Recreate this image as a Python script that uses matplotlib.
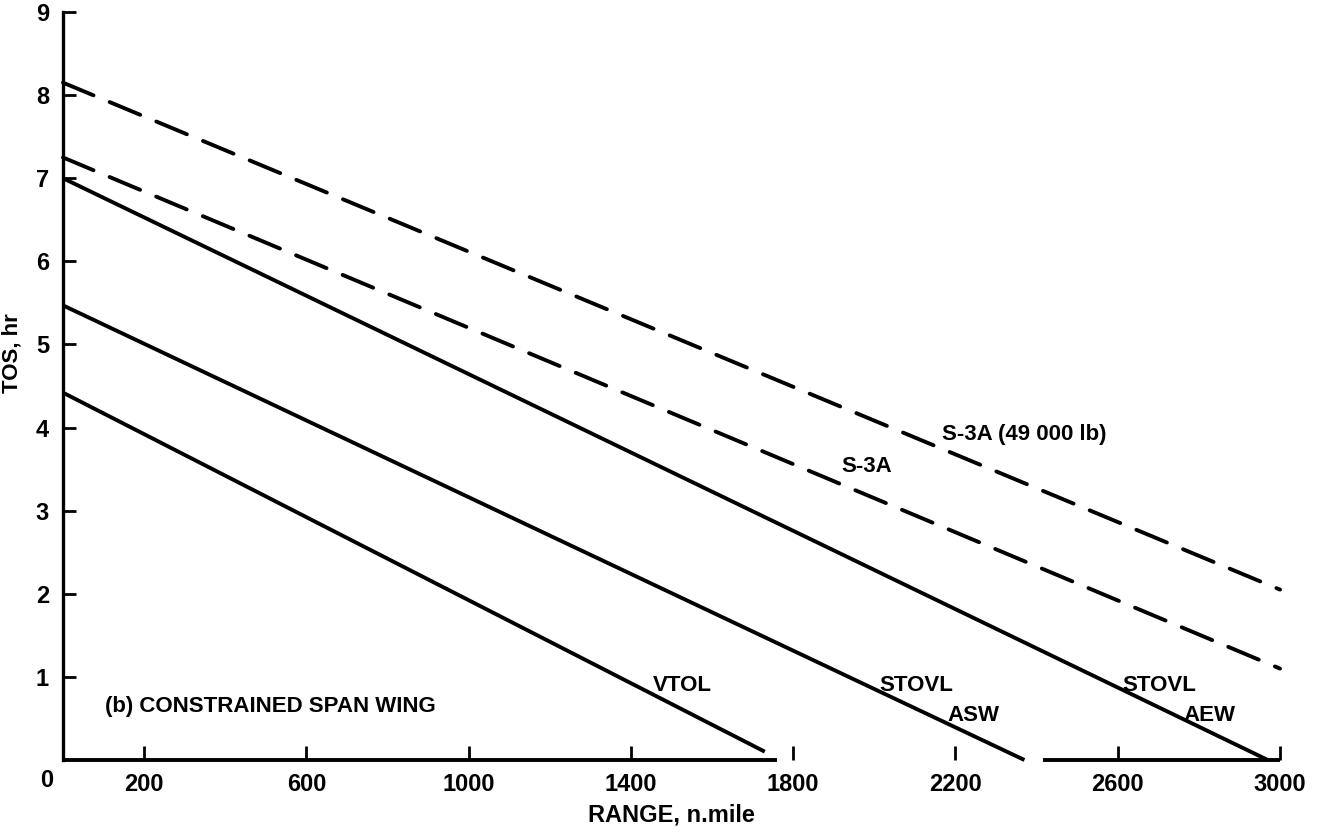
import matplotlib.pyplot as plt
import numpy as np

# Time on station vs. range, constrained span wing
range_nm = {
    "S-3A (49 000 lb)": [0, 3000],
    "S-3A": [0, 3000],
    "STOVL AEW": [0, 2970],
    "STOVL ASW": [0, 2370],
    "VTOL": [0, 1730],
}
tos_hr = {
    "S-3A (49 000 lb)": [8.15, 2.05],
    "S-3A": [7.25, 1.1],
    "STOVL AEW": [7.0, 0.0],
    "STOVL ASW": [5.47, 0.0],
    "VTOL": [4.42, 0.1],
}
dashed = {"S-3A (49 000 lb)", "S-3A"}

xticks = [200, 600, 1000, 1400, 1800, 2200, 2600, 3000]
yticks = [1, 2, 3, 4, 5, 6, 7, 8, 9]
# the x axis line is broken between these ranges
xaxis_segments = [(0, 1760), (2415, 3000)]

plt.rcParams['font.family'] = ['Liberation Sans', 'DejaVu Sans']
plt.rcParams['font.weight'] = 'bold'

fig = plt.figure(figsize=(13.19, 8.30), dpi=100)
ax = fig.add_axes([63 / 1319, 70 / 830, (1280 - 63) / 1319, (760 - 12) / 830])

for name in range_nm:
    x = np.array(range_nm[name])
    y = np.array(tos_hr[name])
    if name in dashed:
        ax.plot(x, y, color="black", lw=2.8, dashes=(8.5, 4.5), dash_capstyle="round",
                clip_on=False)
    else:
        ax.plot(x, y, color="black", lw=2.8, solid_capstyle="butt", clip_on=False)

ax.set_xlim(0, 3000)
ax.set_ylim(0, 9)

for spine in ["top", "right", "bottom"]:
    ax.spines[spine].set_visible(False)
ax.spines["left"].set_linewidth(2.4)
for x0, x1 in xaxis_segments:
    ax.plot([x0, x1], [0, 0], color="black", lw=2.8, clip_on=False,
            solid_capstyle="butt")

ax.set_xticks(xticks)
ax.set_xticklabels([str(t) for t in xticks])
ax.set_yticks(yticks)
ax.set_yticklabels([str(t) for t in yticks])
ax.tick_params(axis="x", direction="in", length=10, width=2, pad=9, labelsize=17)
ax.tick_params(axis="y", direction="in", length=9, width=2, pad=10, labelsize=17)

ax.text(-0.013, -0.027, "0", transform=ax.transAxes, ha="center", va="center",
        fontsize=17, fontweight="bold")

ax.set_xlabel("RANGE, n.mile", fontsize=17, fontweight="bold", labelpad=6)
ax.set_ylabel("TOS, hr", fontsize=16, fontweight="bold")
ax.yaxis.set_label_coords(-0.033, 4.9 / 9)

ax.text(2166, 3.92, "S-3A (49 000 lb)", fontsize=16, fontweight="bold", va="center")
ax.text(1918, 3.53, "S-3A", fontsize=16, fontweight="bold", va="center")
ax.text(1527, 0.9, "VTOL", fontsize=16, fontweight="bold", va="center", ha="center")
ax.text(2012, 0.9, "STOVL", fontsize=16, fontweight="bold", va="center")
ax.text(2180, 0.53, "ASW", fontsize=16, fontweight="bold", va="center")
ax.text(2612, 0.9, "STOVL", fontsize=16, fontweight="bold", va="center")
ax.text(2762, 0.53, "AEW", fontsize=16, fontweight="bold", va="center")
ax.text(104, 0.64, "(b) CONSTRAINED SPAN WING", fontsize=16, fontweight="bold",
        va="center")

fig.savefig("out.png", dpi=100)
